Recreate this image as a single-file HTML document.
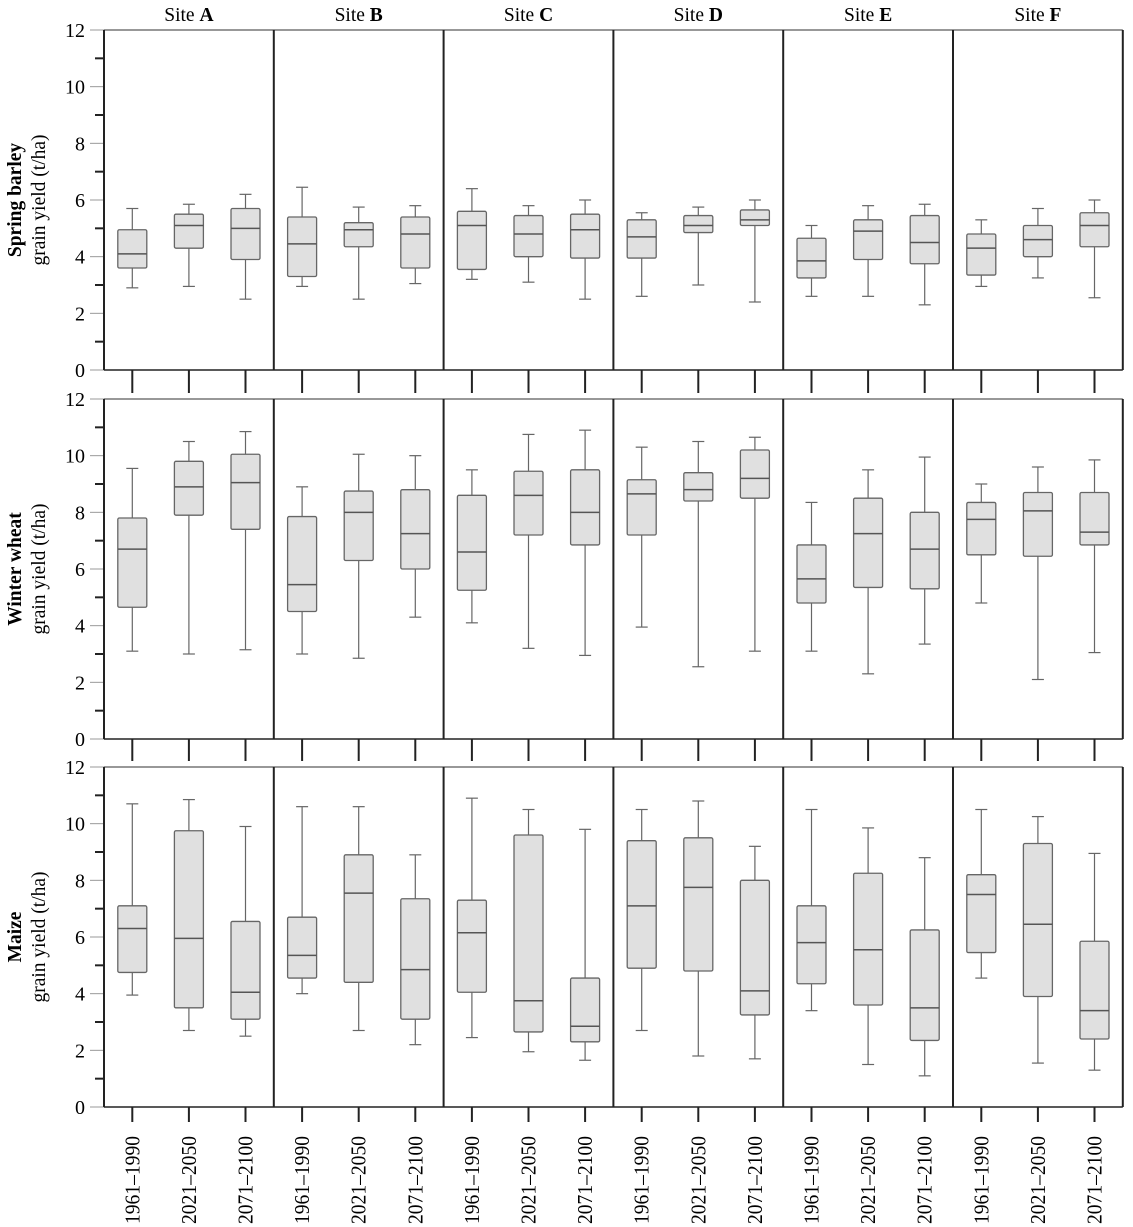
<!DOCTYPE html>
<html><head><meta charset="utf-8"><style>
body{margin:0;background:#fff}
svg{display:block;font-family:"Liberation Serif",serif}
</style></head><body>
<svg id="c" width="1133" height="1227" viewBox="0 0 1133 1227"></svg>
<script>
const sites=["A","B","C","D","E","F"];
const crops=["Spring barley","Winter wheat","Maize"];
const periods=["1961–1990","2021–2050","2071–2100"];
const yTicks=[0,2,4,6,8,10,12];
// [low, q1, median, q3, high] per crop -> site -> period
const barley=[
[[2.9,3.6,4.1,4.95,5.7],[2.95,4.3,5.1,5.5,5.85],[2.5,3.9,5.0,5.7,6.2]],
[[2.95,3.3,4.45,5.4,6.45],[2.5,4.35,4.95,5.2,5.75],[3.05,3.6,4.8,5.4,5.8]],
[[3.2,3.55,5.1,5.6,6.4],[3.1,4.0,4.8,5.45,5.8],[2.5,3.95,4.95,5.5,6.0]],
[[2.6,3.95,4.7,5.3,5.55],[3.0,4.85,5.1,5.45,5.75],[2.4,5.1,5.3,5.65,6.0]],
[[2.6,3.25,3.85,4.65,5.1],[2.6,3.9,4.9,5.3,5.8],[2.3,3.75,4.5,5.45,5.85]],
[[2.95,3.35,4.3,4.8,5.3],[3.25,4.0,4.6,5.1,5.7],[2.55,4.35,5.1,5.55,6.0]]];
const wheat=[
[[3.1,4.65,6.7,7.8,9.55],[3.0,7.9,8.9,9.8,10.5],[3.15,7.4,9.05,10.05,10.85]],
[[3.0,4.5,5.45,7.85,8.9],[2.85,6.3,8.0,8.75,10.05],[4.3,6.0,7.25,8.8,10.0]],
[[4.1,5.25,6.6,8.6,9.5],[3.2,7.2,8.6,9.45,10.75],[2.95,6.85,8.0,9.5,10.9]],
[[3.95,7.2,8.65,9.15,10.3],[2.55,8.4,8.8,9.4,10.5],[3.1,8.5,9.2,10.2,10.65]],
[[3.1,4.8,5.65,6.85,8.35],[2.3,5.35,7.25,8.5,9.5],[3.35,5.3,6.7,8.0,9.95]],
[[4.8,6.5,7.75,8.35,9.0],[2.1,6.45,8.05,8.7,9.6],[3.05,6.85,7.3,8.7,9.85]]];
const maize=[
[[3.95,4.75,6.3,7.1,10.7],[2.7,3.5,5.95,9.75,10.85],[2.5,3.1,4.05,6.55,9.9]],
[[4.0,4.55,5.35,6.7,10.6],[2.7,4.4,7.55,8.9,10.6],[2.2,3.1,4.85,7.35,8.9]],
[[2.45,4.05,6.15,7.3,10.9],[1.95,2.65,3.75,9.6,10.5],[1.65,2.3,2.85,4.55,9.8]],
[[2.7,4.9,7.1,9.4,10.5],[1.8,4.8,7.75,9.5,10.8],[1.7,3.25,4.1,8.0,9.2]],
[[3.4,4.35,5.8,7.1,10.5],[1.5,3.6,5.55,8.25,9.85],[1.1,2.35,3.5,6.25,8.8]],
[[4.55,5.45,7.5,8.2,10.5],[1.55,3.9,6.45,9.3,10.25],[1.3,2.4,3.4,5.85,8.95]]];
const allData=[barley,wheat,maize];

const svg=document.getElementById('c');
const NS="http://www.w3.org/2000/svg";
const X0=104,PW=169.8,rowTop=[30,399,767],RH=340,YMAX=12;
function mk(t,a,p){const e=document.createElementNS(NS,t);for(const k in a)e.setAttribute(k,a[k]);(p||svg).appendChild(e);return e;}
function yS(r,v){return rowTop[r]+RH-v/YMAX*RH;}
function xS(s,p){return X0+s*PW+PW*(p+0.5)/3;}

sites.forEach((s,i)=>{
  const t=mk('text',{x:X0+i*PW+PW/2,y:21,'text-anchor':'middle','font-size':19.5});
  
  
  t.innerHTML='Site <tspan font-weight="bold">'+s+'</tspan>';
});

crops.forEach((c,r)=>{
  const g=mk('g',{});
  
  
  for(let v=0;v<=YMAX;v++){
    const y=yS(r,v);
    if(v%2===0){mk('line',{x1:90,x2:X0,y1:y,y2:y,stroke:'#999','stroke-width':1},g);}
    else mk('line',{x1:95,x2:X0,y1:y,y2:y,stroke:'#222','stroke-width':2},g);
  }
  yTicks.forEach(v=>{
    const t=mk('text',{x:85,y:yS(r,v)+7,'text-anchor':'end','font-size':20},g);
    
    
    t.textContent=v;
  });
  const lab=mk('text',{transform:`translate(21,${rowTop[r]+RH/2}) rotate(-90)`,'text-anchor':'middle','font-size':19.5,'font-weight':'bold'},g);
  
  
  lab.textContent=c;
  const lab2=mk('text',{transform:`translate(45,${rowTop[r]+RH/2}) rotate(-90)`,'text-anchor':'middle','font-size':19.5},g);
  
  
  lab2.textContent='grain yield (t/ha)';
  mk('line',{x1:X0,x2:X0+6*PW,y1:rowTop[r],y2:rowTop[r],stroke:'#777','stroke-width':1.5},g);
  mk('line',{x1:X0,x2:X0+6*PW,y1:rowTop[r]+RH,y2:rowTop[r]+RH,stroke:'#222','stroke-width':1.5},g);
  for(let i=0;i<=6;i++){const x=X0+i*PW;mk('line',{x1:x,x2:x,y1:rowTop[r],y2:rowTop[r]+RH,stroke:'#222','stroke-width':2},g);}
  const tickEnd=r<2?rowTop[r+1]-6:rowTop[r]+RH+15;
  sites.forEach((s,si)=>periods.forEach((p,pi)=>{
    const x=xS(si,pi);
    mk('line',{x1:x,x2:x,y1:rowTop[r]+RH,y2:tickEnd,stroke:'#222','stroke-width':2},g);
  }));
  allData[r].forEach((site,si)=>site.forEach((d,pi)=>{
    const x=xS(si,pi),bw=29,cw=12;
    const b=mk('g',{},g);
    
    
    mk('line',{x1:x,x2:x,y1:yS(r,d[0]),y2:yS(r,d[4]),stroke:'#666','stroke-width':1.2},b);
    mk('line',{x1:x-cw/2,x2:x+cw/2,y1:yS(r,d[0]),y2:yS(r,d[0]),stroke:'#666','stroke-width':1.2},b);
    mk('line',{x1:x-cw/2,x2:x+cw/2,y1:yS(r,d[4]),y2:yS(r,d[4]),stroke:'#666','stroke-width':1.2},b);
    mk('rect',{x:x-bw/2,y:yS(r,d[3]),width:bw,height:yS(r,d[1])-yS(r,d[3]),rx:1.5,fill:'#e0e0e0',stroke:'#666','stroke-width':1.3},b);
    mk('line',{x1:x-bw/2,x2:x+bw/2,y1:yS(r,d[2]),y2:yS(r,d[2]),stroke:'#555','stroke-width':1.5},b);
  }));
});
sites.forEach((s,si)=>periods.forEach((p,pi)=>{
  const t=mk('text',{transform:`translate(${xS(si,pi)+7},1136) rotate(-90)`,'text-anchor':'end','font-size':21,textLength:88,lengthAdjust:'spacingAndGlyphs'});
  
  
  t.textContent=p;
}));
</script>
</body></html>
